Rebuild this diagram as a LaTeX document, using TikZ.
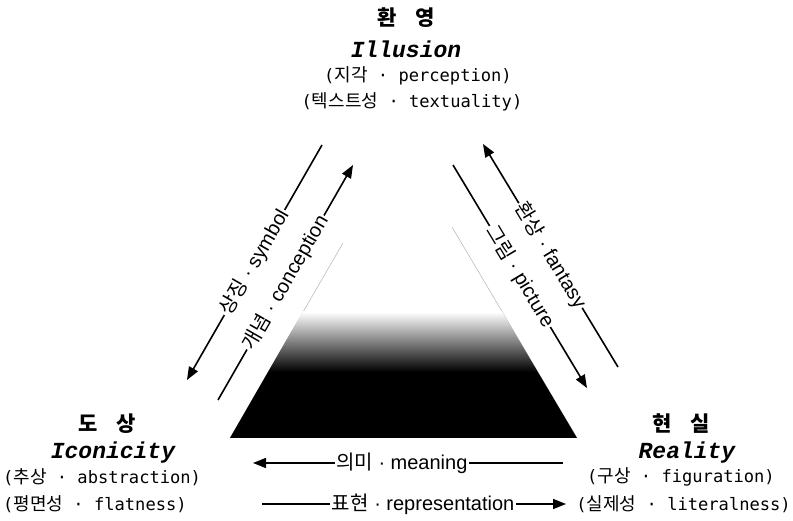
\documentclass[tikz,border=0pt]{standalone}
\usepackage{fontspec}
\setmainfont{Liberation Sans}
\newfontfamily\kofont{Noto Sans CJK KR}
\newfontfamily\gulfont[Scale=0.95]{DejaVu Sans Mono}
\newfontfamily\courfont{Liberation Mono}
\newcommand{\ko}[1]{{\kofont #1}}
\usetikzlibrary{arrows.meta}

\begin{document}
\begin{tikzpicture}[x=1pt, y=-1pt,
    head/.style={font=\fontsize{21}{24}\selectfont\kofont\bfseries, inner sep=0pt},
    term/.style={font=\fontsize{23}{26}\selectfont\courfont\bfseries\itshape, inner sep=0pt},
    gloss/.style={font=\fontsize{18}{21}\selectfont\gulfont, inner sep=0pt},
    flow/.style={line width=1.6pt, -{Triangle[length=13pt, width=10pt]}},
    flow label/.style={fill=white, inner sep=1.5pt, font=\fontsize{20}{23}\selectfont}]
    \useasboundingbox (0,0) rectangle (793,521);

    % shaded triangle
    \coordinate (L) at (230,438);
    \coordinate (R) at (577,438);
    \coordinate (T) at (401,141);
    \coordinate (Lt) at (343,243);
    \coordinate (Rt) at (452,227);
    \draw[gray!60, line width=0.5pt] (L) -- (Lt);
    \draw[gray!60, line width=0.5pt] (R) -- (Rt);
    \begin{scope}
        \clip (L) -- (R) -- (T) -- cycle;
        \fill (220,438) rectangle (590,372);
        \shade[top color=white, bottom color=black] (220,372) rectangle (590,312);
    \end{scope}

    % illusion
    \node[head] (ill) at (406,18) {환\hspace{0.9em}영};
    \node[term] (ill-en) at (406,49) {Illusion};
    \node[gloss] (ill-a) at (418,76) {(\ko{지각} · perception)};
    \node[gloss] (ill-b) at (412,102) {(\ko{텍스트성} · textuality)};

    % iconicity
    \node[head] (ico) at (107,424) {도\hspace{0.9em}상};
    \node[term] (ico-en) at (113,453) {Iconicity};
    \node[gloss, anchor=west] (ico-a) at (3,477) {(\ko{추상} · abstraction)};
    \node[gloss, anchor=west] (ico-b) at (3,504) {(\ko{평면성} · flatness)};

    % reality
    \node[head] (rea) at (681,424) {현\hspace{0.9em}실};
    \node[term] (rea-en) at (687,453) {Reality};
    \node[gloss] (rea-a) at (681,477) {(\ko{구상} · figuration)};
    \node[gloss, anchor=east] (rea-b) at (791,504) {(\ko{실제성} · literalness)};

    % arrows
    \coordinate (sym-a) at (322,145);
    \coordinate (sym-b) at (187,380);
    \coordinate (con-a) at (218,400);
    \coordinate (con-b) at (353,165);
    \coordinate (fan-a) at (618,367);
    \coordinate (fan-b) at (483,144);
    \coordinate (pic-a) at (453,165);
    \coordinate (pic-b) at (587,388);
    \coordinate (mea-a) at (563,463);
    \coordinate (mea-b) at (253,463);
    \coordinate (rep-a) at (262,504);
    \coordinate (rep-b) at (566,504);

    \draw[flow] (sym-a) -- node[flow label, sloped] {\ko{상징} · symbol} (sym-b);
    \draw[flow] (con-a) -- node[flow label, sloped] {\ko{개념} · conception} (con-b);
    \draw[flow] (fan-a) -- node[flow label, sloped] {\ko{환상} · fantasy} (fan-b);
    \draw[flow] (pic-a) -- node[flow label, sloped] {\ko{그림} · picture} (pic-b);
    \draw[flow] (mea-a) -- node[flow label, pos=0.52] {\ko{의미} · meaning} (mea-b);
    \draw[flow] (rep-a) -- node[flow label, pos=0.53] {\ko{표현} · representation} (rep-b);
\end{tikzpicture}
\end{document}
